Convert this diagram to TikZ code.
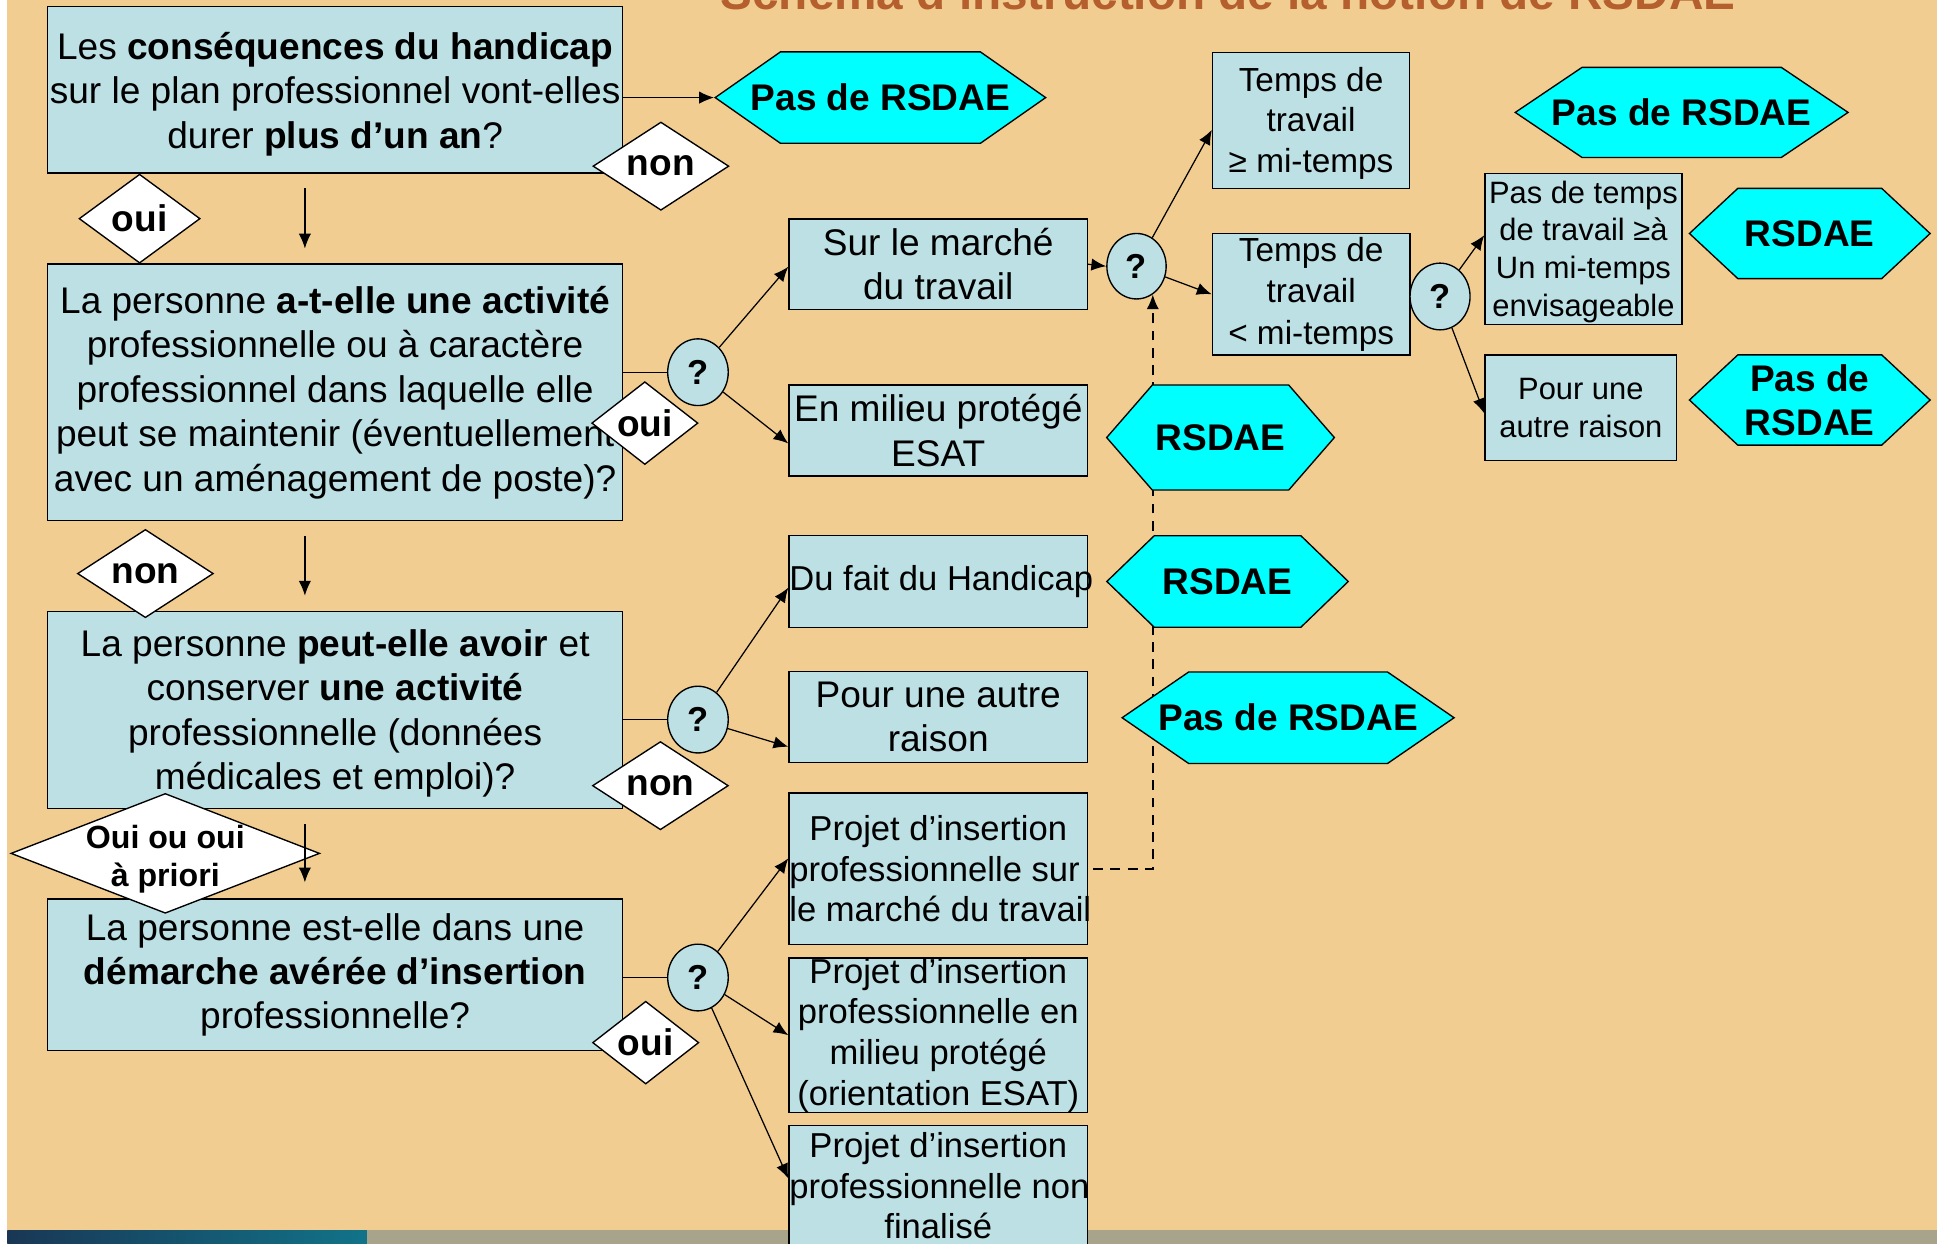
\documentclass[tikz,border=0pt]{standalone}
\usepackage{fontspec}
\setmainfont{Liberation Sans}
\usepackage{tikz}
\usetikzlibrary{shapes.geometric, shapes.symbols, arrows.meta}

\definecolor{tanbg}{RGB}{241,205,145}
\definecolor{boxblue}{RGB}{188,224,228}
\definecolor{hexcyan}{RGB}{0,255,255}
\definecolor{titlebrown}{RGB}{180,95,45}
\definecolor{stripgrey}{RGB}{168,164,140}
\definecolor{stripblue}{RGB}{25,55,85}

\begin{document}
\begin{tikzpicture}[x=1pt, y=-1pt,
    box/.style={draw, fill=boxblue, line width=1.1pt, inner sep=0pt, align=center, font=\fontsize{30}{36}\selectfont},
    quest/.style={ellipse, draw, fill=boxblue, line width=1.1pt, inner sep=0pt, minimum width=49pt, minimum height=54pt, font=\bfseries\fontsize{28}{32}\selectfont},
    answer/.style={diamond, draw, fill=white, line width=1.1pt, inner sep=0pt, align=center, font=\bfseries\fontsize{30}{36}\selectfont},
    hexa/.style={signal, signal to=east and west, draw, fill=hexcyan, line width=1.1pt, inner sep=0pt, align=center, font=\bfseries\fontsize{30}{36}\selectfont},
    arr/.style={-{Latex[length=12pt, width=10pt]}, line width=1pt},
    link/.style={line width=1pt}]
    %\draw[help lines, step=100] (0, 0) grid (1568, 1007);

    \useasboundingbox (0, 0) rectangle (1568, 1007);
    \clip (0, 0) rectangle (1568, 1007);
    \fill[tanbg] (0, 0) rectangle (1568, 1007);
    \fill[white] (0, 0) rectangle (6, 1007);
    \fill[stripgrey] (6, 996) rectangle (1568, 1007);
    \shade[left color=stripblue, right color=stripblue!70!cyan] (6, 996) rectangle (297, 1007);

    \node[anchor=base, text=titlebrown, font=\bfseries\fontsize{38.6}{40}\selectfont] (title) at (994, 8) {Schéma d’instruction de la notion de RSDAE};

    % the four questions
    \node[box, minimum width=465.5pt, minimum height=134.6pt] (qa) at (271.3, 72.7) {\rule{0pt}{28.5pt}Les \textbf{conséquences du handicap}\\\makebox[465pt]{sur le plan professionnel vont-elles}\\durer \textbf{plus d’un an}?};
    \node[box, minimum width=465.5pt, minimum height=207.8pt] (qb) at (271.3, 317.6) {La personne \textbf{a-t-elle une activité}\\professionnelle ou à caractère\\professionnel dans laquelle elle\\\makebox[465pt]{peut se maintenir (éventuellement}\\\makebox[465pt]{avec un aménagement de poste)?}};
    \node[box, minimum width=465.5pt, minimum height=159.1pt] (qc) at (271.3, 574.8) {\rule{0pt}{27pt}La personne \textbf{peut-elle avoir} et\\conserver \textbf{une activité}\\professionnelle (données\\médicales et emploi)?};
    \node[box, minimum width=465.5pt, minimum height=122.8pt] (qd) at (271.3, 789.2) {La personne est-elle dans une\\\textbf{démarche avérée d’insertion}\\professionnelle?};

    % middle column
    \node[box, minimum width=241.6pt, minimum height=73.1pt] (marche) at (759.5, 213.9) {Sur le marché\\du travail};
    \node[box, minimum width=241.6pt, minimum height=73.6pt] (esat) at (759.5, 348.5) {En milieu protégé\\ESAT};
    \node[box, minimum width=241.6pt, minimum height=74.1pt, font=\fontsize{28}{34}\selectfont] (handi) at (759.5, 470.7) {\makebox[241pt][l]{Du fait du Handicap}};
    \node[box, minimum width=241.6pt, minimum height=73.4pt] (autre) at (759.5, 580.5) {Pour une autre\\raison};
    \node[box, minimum width=241.6pt, minimum height=123pt, font=\fontsize{28}{32.7}\selectfont] (projA) at (759.5, 703.3) {Projet d’insertion\\\makebox[241pt][l]{professionnelle sur}\\\makebox[241pt][l]{le marché du travail}};
    \node[box, minimum width=241.6pt, minimum height=122.5pt, font=\fontsize{28}{33}\selectfont] (projB) at (759.5, 838) {Projet d’insertion\\\makebox[241pt]{professionnelle en}\\milieu protégé\\(orientation ESAT)};
    \node[box, minimum width=241.6pt, minimum height=98pt, font=\fontsize{28}{32.7}\selectfont] (projC) at (759.5, 960) {Projet d’insertion\\\makebox[241pt][l]{professionnelle non}\\finalisé};

    % right part
    \node[box, minimum width=159.5pt, minimum height=110.3pt, font=\fontsize{27}{33}\selectfont] (tpsA) at (1061.3, 97.6) {\rule{0pt}{24pt}Temps de\\travail\\≥ mi-temps};
    \node[box, minimum width=160pt, minimum height=98.5pt, font=\fontsize{27}{33.7}\selectfont] (tpsB) at (1061.4, 238.2) {Temps de\\travail\\< mi-temps};
    \node[box, minimum width=159.5pt, minimum height=122.2pt, font=\fontsize{25}{30.6}\selectfont] (envis) at (1281.8, 201.4) {\rule{0pt}{23pt}Pas de temps\\de travail ≥à\\Un mi-temps\\envisageable};
    \node[box, minimum width=155.3pt, minimum height=85.5pt, font=\fontsize{25}{31}\selectfont] (raison) at (1279.7, 330.2) {Pour une\\autre raison};

    % question marks
    \node[quest] (qmA) at (565, 301.3) {?};
    \node[quest, minimum width=48pt, minimum height=53pt] (qmB) at (920, 215.5) {?};
    \node[quest] (qmC) at (565, 582.5) {?};
    \node[quest] (qmD) at (565, 791.3) {?};
    \node[quest, minimum width=48.6pt] (qmE) at (1165.7, 240) {?};

    % dashed link behind the hexagons
    \draw[arr, dashed, dash pattern=on 8pt off 6pt, line width=1.5pt, shorten <=4pt] (projA.east) -| (qmB.-60);

    % outcomes
    \node[hexa, signal pointer angle=70, minimum width=267.5pt, minimum height=74pt] (pasA) at (712.7, 79) {\makebox[150pt]{Pas de RSDAE}};
    \node[hexa, signal pointer angle=98, minimum width=184.3pt, minimum height=85pt] (okA) at (988, 354.2) {RSDAE};
    \node[hexa, signal pointer angle=88, minimum width=195.4pt, minimum height=74pt] (okB) at (993.7, 470.7) {RSDAE};
    \node[hexa, signal pointer angle=69, minimum width=268.7pt, minimum height=74pt] (pasB) at (1042.7, 581) {\makebox[150pt]{Pas de RSDAE}};
    \node[hexa, signal pointer angle=68, minimum width=269.4pt, minimum height=73pt] (pasC) at (1361.3, 91) {\makebox[150pt]{Pas de RSDAE}};
    \node[hexa, signal pointer angle=86, minimum width=194.8pt, minimum height=73pt] (okC) at (1465, 189) {RSDAE};
    \node[hexa, signal pointer angle=86, minimum width=194.8pt, minimum height=73pt] (pasD) at (1465, 323.8) {Pas de\\RSDAE};

    % answers
    \node[answer, minimum width=98pt, minimum height=72pt] (ouiA) at (113, 177) {oui};
    \node[answer, minimum width=110pt, minimum height=61pt] (nonA) at (535, 134.5) {non};
    \node[answer, minimum width=86pt, minimum height=61pt] (ouiB) at (522, 342.5) {oui};
    \node[answer, minimum width=110pt, minimum height=61pt] (nonB) at (117.7, 464.3) {non};
    \node[answer, minimum width=110pt, minimum height=61pt] (nonC) at (534.6, 636) {non};
    \node[answer, aspect=2.6, inner xsep=-15pt, inner ysep=-8pt, minimum width=250pt, minimum height=97pt, font=\bfseries\fontsize{26}{31}\selectfont] (ouiC) at (133.8, 690.8) {\rule{0pt}{28pt}Oui ou oui\\à priori};
    \node[answer, minimum width=86pt, minimum height=61pt] (ouiD) at (522.7, 844) {oui};

    % flow
    \draw[arr] (qa.east |- pasA.west) -- (pasA.west);
    \draw[arr, shorten <=12pt, shorten >=12pt] ([xshift=-24.5pt]qa.south) -- ([xshift=-24.5pt]qb.north);
    \draw[arr, shorten <=11.5pt, shorten >=12.5pt] ([xshift=-24.5pt]qb.south) -- ([xshift=-24.5pt]qc.north);
    \draw[arr, shorten <=12pt, shorten >=13pt] ([xshift=-24.5pt]qc.south) -- ([xshift=-24.5pt]qd.north);

    \draw[link] (qb.east |- qmA.west) -- (qmA.west);
    \draw[link] (qc.east |- qmC.west) -- (qmC.west);
    \draw[link] (qd.east |- qmD.west) -- (qmD.west);

    \draw[arr] (qmA) -- ([yshift=-2pt]marche.west);
    \draw[arr] (qmA) -- ([yshift=-10.5pt]esat.west);
    \draw[arr] (qmC) -- ([yshift=-5pt]handi.west);
    \draw[arr] (qmC) -- ([yshift=-24pt]autre.west);
    \draw[arr] (qmD) -- ([yshift=8.5pt]projA.west);
    \draw[arr] (qmD) -- (projB.west);
    \draw[arr] (qmD) -- ([yshift=6pt]projC.west);

    \draw[arr] (marche.east) -- (qmB.west);
    \draw[arr] (qmB) -- ([yshift=-7.5pt]tpsA.west);
    \draw[arr] (qmB) -- (tpsB.west);
    \draw[arr] (qmE) -- ([yshift=11pt]envis.west);
    \draw[arr] (qmE) -- ([yshift=-4.4pt]raison.west);

  \end{tikzpicture}
\end{document}
